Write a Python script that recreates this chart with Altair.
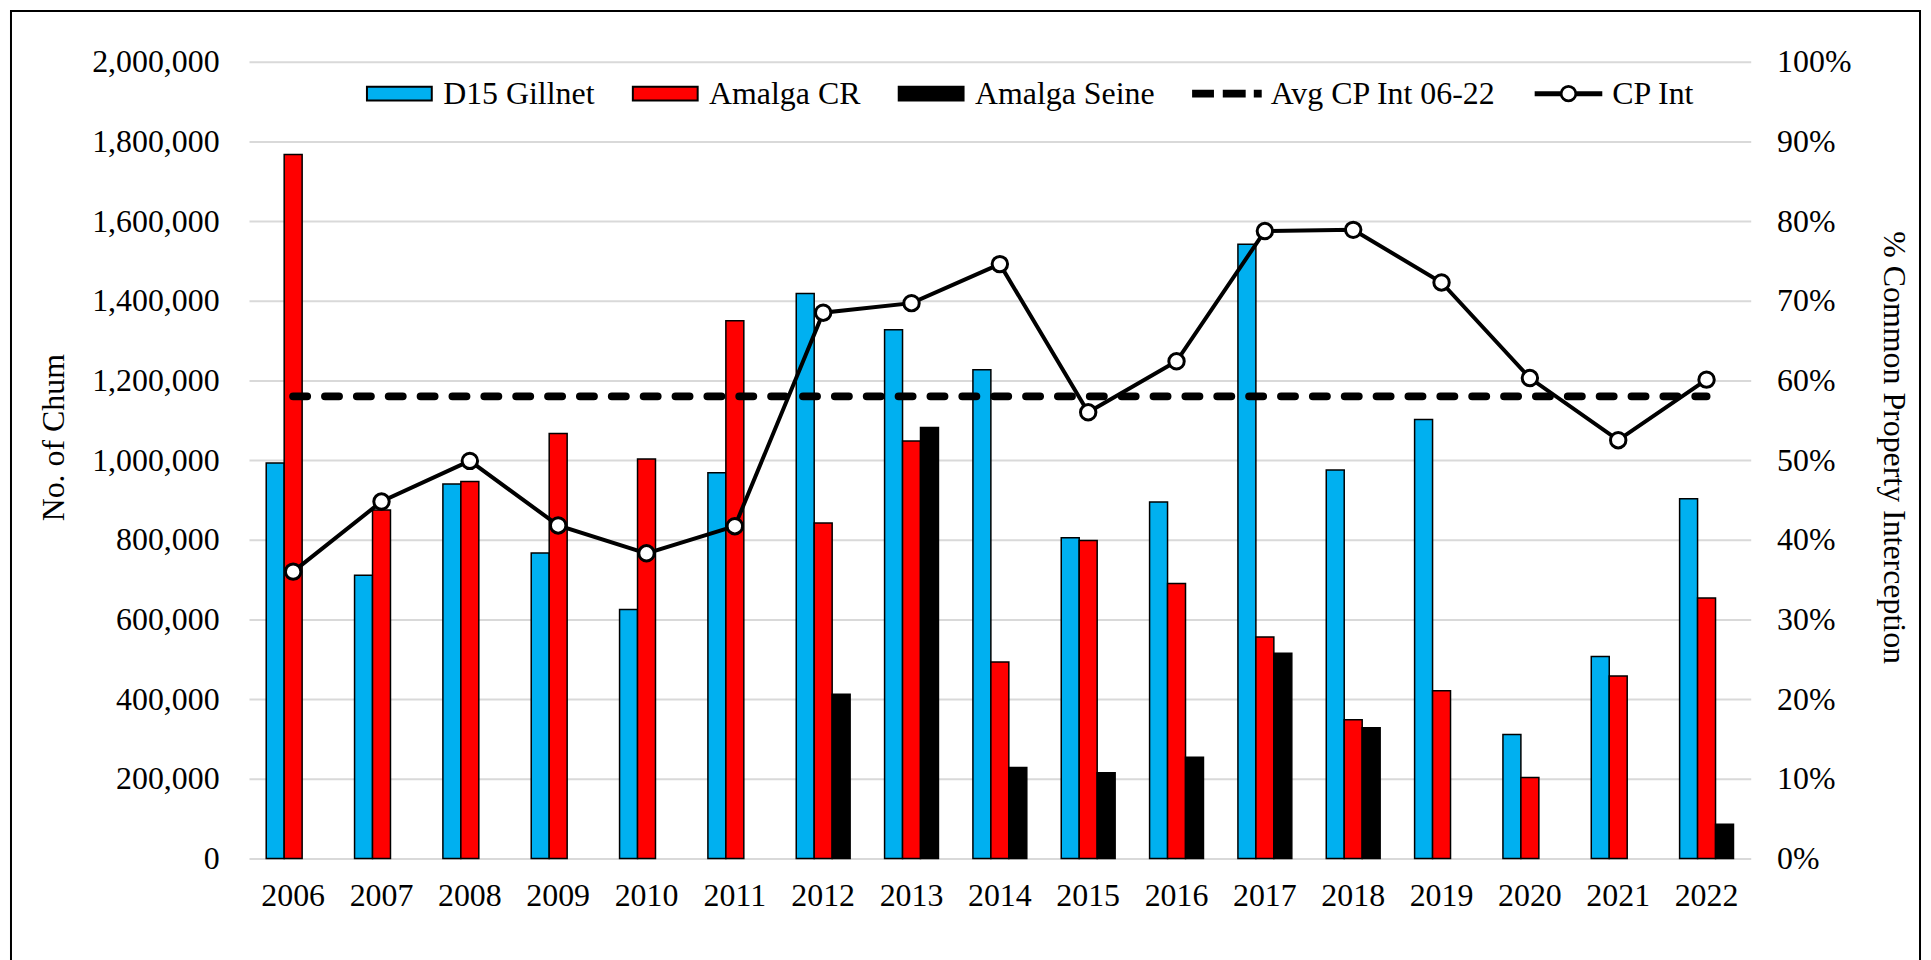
import altair as alt
import pandas as pd

# ---------------- data ----------------
years = [str(y) for y in range(2006, 2023)]
gillnet = [993000, 711000, 940000, 767000, 625000, 968000, 1418000, 1327000, 1227000,
           805000, 895000, 1542000, 975000, 1102000, 311000, 507000, 903000]
amalga_cr = [1767000, 875000, 946000, 1067000, 1003000, 1350000, 842000, 1048000, 493000,
             798000, 690000, 556000, 348000, 421000, 203000, 458000, 654000]
amalga_seine = [None, None, None, None, None, None, 412000, 1082000, 228000,
                215000, 254000, 515000, 328000, None, None, None, 86000]
cp_int = [0.360, 0.448, 0.499, 0.418, 0.383, 0.417, 0.685, 0.697, 0.746,
          0.560, 0.624, 0.7875, 0.789, 0.723, 0.603, 0.525, 0.601]
avg_cp_int = 0.580

series_names = ["D15 Gillnet", "Amalga CR", "Amalga Seine", "Avg CP Int 06-22", "CP Int"]
bar_series = series_names[:3]
series_fill = ["#00B0F0", "#FF0000", "#000000", "#000000", "#FFFFFF"]
series_stroke = ["#000000"] * 5
left_ticks = [i * 200000 for i in range(11)]
right_ticks = [i / 10 for i in range(11)]

rows = []
for name, vals in zip(bar_series, [gillnet, amalga_cr, amalga_seine]):
    for yr, v in zip(years, vals):
        if v is not None:
            rows.append({"year": yr, "series": name, "value": v})
bars_df = pd.DataFrame(rows)
line_df = pd.DataFrame({"year": years, "pct": cp_int, "avg": [avg_cp_int] * len(years)})
legend_df = pd.DataFrame({"series": series_names})
frame_df = pd.DataFrame({"k": [0]})

# ---------------- legend symbols (unit box paths) ----------------
bar_sym = "M-0.93,-0.2H0.93V0.2H-0.93Z"
dash_sym = ("M-0.97,-0.086H-0.4V0.086H-0.97Z "
            "M-0.09,-0.086H0.51V0.086H-0.09Z "
            "M0.8,-0.086H0.97V0.086H0.8Z")
_cp_lines = " ".join(
    f"M-0.97,{yy}H-0.22 M0.22,{yy}H0.97" for yy in ["-0.043", "-0.014", "0.014", "0.043"]
)
cp_sym = (_cp_lines + " "
          "M0.22,0A0.22,0.22 0 1,1 -0.22,0A0.22,0.22 0 1,1 0.22,0Z "
          "M0.2,0A0.2,0.2 0 1,1 -0.2,0A0.2,0.2 0 1,1 0.2,0Z")
shape_range = [bar_sym, bar_sym, bar_sym, dash_sym, cp_sym]

FONT = "Liberation Serif"
FS = 32

fill_scale = alt.Scale(domain=series_names, range=series_fill)

x_enc = alt.X(
    "year:N",
    sort=years,
    scale=alt.Scale(paddingInner=0.39, paddingOuter=0.195),
    axis=alt.Axis(title=None, labelAngle=0, ticks=False, domain=False, grid=False,
                  labelPadding=22, labelFont=FONT, labelFontSize=FS, labelColor="black"),
)

left_axis = alt.Axis(
    values=left_ticks, format=",d", grid=True, gridColor="#d9d9d9", gridWidth=2,
    domain=False, ticks=False, labelPadding=30, labelFont=FONT, labelFontSize=FS,
    labelColor="black", title="No. of Chum", titleFont=FONT, titleFontSize=FS,
    titleFontWeight="normal", titleColor="black", titleAngle=270, titleX=-186,
    titleY=377, titleBaseline="alphabetic", titleAlign="center",
)

right_axis = alt.Axis(
    orient="right", values=right_ticks, format=".0%", grid=False, domain=False,
    ticks=False, labelPadding=26, labelFont=FONT, labelFontSize=FS, labelColor="black",
    title="% Common Property Interception", titleFont=FONT, titleFontSize=FS,
    titleFontWeight="normal", titleColor="black", titleAngle=90, titleX=133,
    titleY=387, titleBaseline="alphabetic", titleAlign="center",
)

legend_def = alt.Legend(
    title=None, orient="none", legendX=115, legendY=-4, direction="horizontal",
    labelFont=FONT, labelFontSize=FS, labelColor="black", labelOffset=8,
    columnPadding=34, symbolSize=4900, labelLimit=600, padding=0,
    symbolStrokeWidth=2, symbolStrokeColor="black",
)

# ---------------- layers ----------------
frame = alt.Chart(frame_df).mark_rect(filled=False, stroke="black", strokeWidth=2).encode(
    x=alt.value(-239), x2=alt.value(1678), y=alt.value(-51), y2=alt.value(960)
)

legend_layer = alt.Chart(legend_df).mark_point(
    filled=True, opacity=1, strokeWidth=2
).encode(
    x=alt.value(-3000),
    y=alt.value(-3000),
    fill=alt.Fill("series:N", scale=fill_scale, legend=legend_def),
    stroke=alt.Stroke("series:N", scale=alt.Scale(domain=series_names, range=series_stroke),
                      legend=legend_def),
    shape=alt.Shape("series:N", scale=alt.Scale(domain=series_names, range=shape_range),
                    legend=legend_def),
)

bars = alt.Chart(bars_df).mark_bar(stroke="black", strokeWidth=1.5).encode(
    x=x_enc,
    xOffset=alt.XOffset("series:N", sort=bar_series,
                        scale=alt.Scale(domain=bar_series, paddingInner=0, paddingOuter=0)),
    y=alt.Y("value:Q", scale=alt.Scale(domain=[0, 2000000], nice=False), axis=left_axis),
    fill=alt.Fill("series:N", scale=fill_scale),
)

pct_scale = alt.Scale(domain=[0, 1], nice=False)

avg_line = alt.Chart(line_df).mark_line(
    color="black", strokeWidth=8, strokeDash=[14, 18], strokeCap="round"
).encode(
    x=x_enc,
    y=alt.Y("avg:Q", scale=pct_scale, axis=right_axis),
)

cp_line = alt.Chart(line_df).mark_line(color="black", strokeWidth=4).encode(
    x=x_enc,
    y=alt.Y("pct:Q", scale=pct_scale, axis=right_axis),
)

cp_points = alt.Chart(line_df).mark_point(
    shape="circle", filled=True, fill="white", stroke="black", strokeWidth=3,
    size=240, opacity=1
).encode(
    x=x_enc,
    y=alt.Y("pct:Q", scale=pct_scale, axis=right_axis),
)

left = alt.layer(frame, legend_layer, bars)
right = alt.layer(avg_line, cp_line, cp_points)

chart = (
    alt.layer(left, right)
    .resolve_scale(y="independent")
    .properties(
        width=1508,
        height=800,
        padding={"left": 242, "top": 52, "right": 173, "bottom": 100},
        autosize="none",
        background="white",
    )
    .configure_view(stroke=None)
)

chart.save("out.html", embed_options={"renderer": "svg", "actions": False})
